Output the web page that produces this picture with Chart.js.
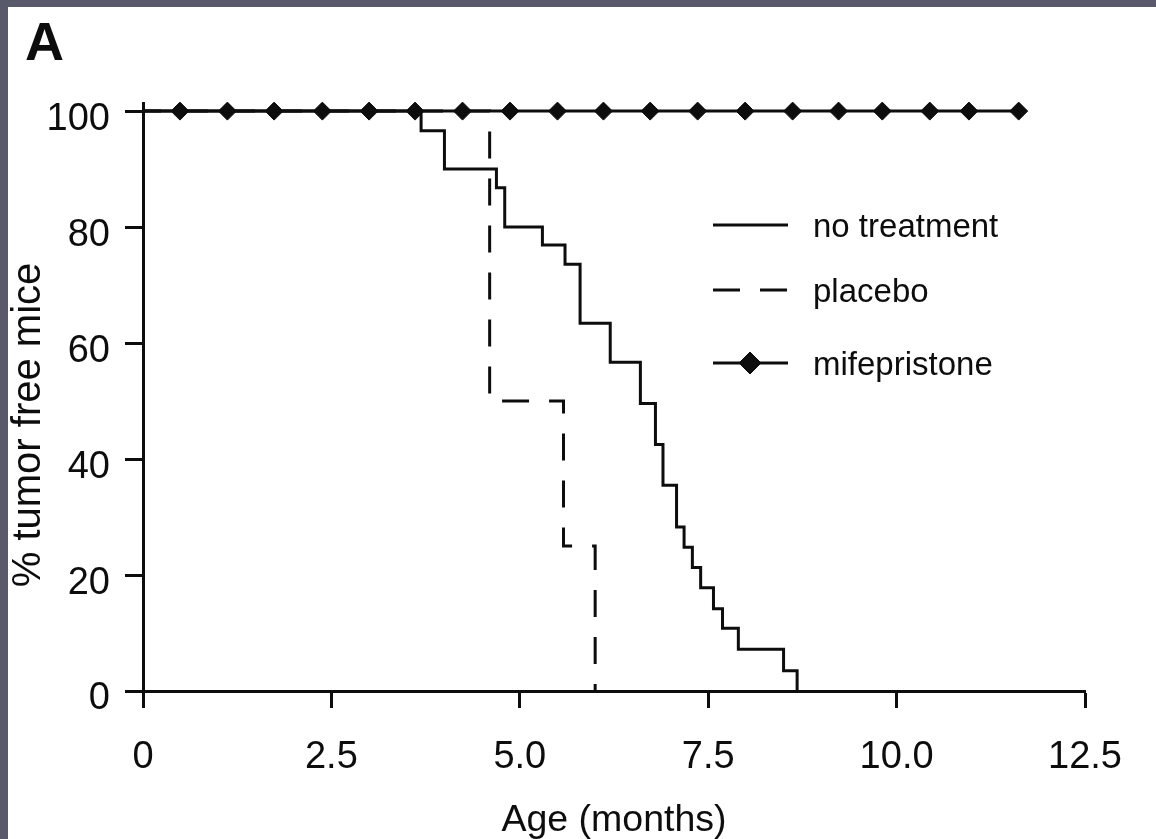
<!DOCTYPE html>
<html>
<head>
<meta charset="utf-8">
<title>Tumor free mice</title>
<script src="https://cdn.jsdelivr.net/npm/chart.js@4.4.1/dist/chart.umd.min.js"></script>
<style>
  html, body { margin: 0; padding: 0; width: 1156px; height: 839px; overflow: hidden; background: #585a6c; }
  #panel { position: absolute; left: 8px; top: 7px; width: 1148px; height: 832px; background: #fff; }
</style>
</head>
<body>
<div id="panel"><canvas id="survivalChart" width="1148" height="832"></canvas></div>
<script>
var FONT = '"Liberation Sans", Arial, Helvetica, sans-serif';
var INK = '#0d0d0d';

// Kaplan-Meier style curves
var noTreatmentMonths = [0, 3.69, 4.0, 4.69, 4.8, 5.3, 5.6, 5.8, 6.2, 6.6, 6.8, 6.9, 7.08, 7.18, 7.29, 7.4, 7.57, 7.69, 7.9, 8.5, 8.68];
var noTreatmentPct = [100, 96.6, 90, 86.8, 80, 76.9, 73.6, 63.4, 56.7, 49.6, 42.5, 35.5, 28.3, 24.8, 21.3, 17.8, 14.2, 10.8, 7.2, 3.5, 0];

var placeboMonths = [0, 4.6, 5.58, 6.0];
var placeboPct = [100, 50, 25, 0];

var mifepristoneMonths = [0, 0.49, 1.12, 1.74, 2.38, 3.0, 3.61, 4.24, 4.87, 5.5, 6.11, 6.73, 7.36, 7.99, 8.62, 9.23, 9.81, 10.44, 10.96, 11.62];
var mifepristonePct = [100, 100, 100, 100, 100, 100, 100, 100, 100, 100, 100, 100, 100, 100, 100, 100, 100, 100, 100, 100];

var xTicks = [0, 2.5, 5, 7.5, 10, 12.5];
var xTickLabels = ['0', '2.5', '5.0', '7.5', '10.0', '12.5'];
var yTicks = [0, 20, 40, 60, 80, 100];

function toPoints(xs, ys) {
    return xs.map(function(x, i) { return { x: x, y: ys[i] }; });
}

// panel letter, rotated y title and the legend
var annotations = {
    id: 'annotations',
    afterDraw: function(chart) {
        var ctx = chart.ctx;
        ctx.save();
        ctx.fillStyle = INK;
        ctx.font = 'bold 54px ' + FONT;
        ctx.textAlign = 'left';
        ctx.textBaseline = 'alphabetic';
        ctx.fillText('A', 17, 53);

        ctx.translate(21, 418);
        ctx.rotate(-Math.PI / 2);
        ctx.font = '40px ' + FONT;
        ctx.textAlign = 'center';
        ctx.textBaseline = 'middle';
        ctx.fillText('% tumor free mice', 0, 0);
        ctx.restore();

        var rows = [218, 283, 356];
        chart.data.datasets.forEach(function(ds, i) {
            var y = rows[i];
            ctx.save();
            ctx.strokeStyle = ds.borderColor;
            ctx.lineWidth = ds.borderWidth;
            ctx.setLineDash(ds.borderDash || []);
            ctx.beginPath();
            ctx.moveTo(705, y);
            ctx.lineTo(780, y);
            ctx.stroke();
            ctx.setLineDash([]);
            if (ds.pointStyle) {
                ctx.fillStyle = ds.pointBackgroundColor;
                ctx.strokeStyle = ds.pointBorderColor;
                ctx.lineWidth = ds.pointBorderWidth;
                Chart.helpers.drawPoint(ctx, { pointStyle: ds.pointStyle, radius: 11, rotation: 0, borderWidth: ds.pointBorderWidth }, 742, y);
            }
            ctx.fillStyle = INK;
            ctx.font = '33px ' + FONT;
            ctx.textAlign = 'left';
            ctx.textBaseline = 'alphabetic';
            ctx.fillText(ds.label, 805, y + 12);
            ctx.restore();
        });
    }
};

var ctx = document.getElementById('survivalChart').getContext('2d');
new Chart(ctx, {
    type: 'line',
    data: {
        datasets: [{
            label: 'no treatment',
            data: toPoints(noTreatmentMonths, noTreatmentPct),
            stepped: true,
            borderColor: INK,
            borderWidth: 3,
            pointRadius: 0,
            fill: false,
            clip: false
        }, {
            label: 'placebo',
            data: toPoints(placeboMonths, placeboPct),
            stepped: true,
            borderColor: INK,
            borderWidth: 3,
            borderDash: [27, 20],
            borderDashOffset: 9,
            pointRadius: 0,
            fill: false,
            clip: false
        }, {
            label: 'mifepristone',
            data: toPoints(mifepristoneMonths, mifepristonePct),
            borderColor: INK,
            borderWidth: 3,
            pointStyle: 'rectRot',
            pointRadius: function(c) { return c.dataIndex === 0 ? 0 : 9; },
            pointBackgroundColor: INK,
            pointBorderColor: INK,
            pointBorderWidth: 1,
            fill: false,
            clip: false
        }]
    },
    options: {
        responsive: false,
        animation: false,
        events: [],
        layout: { padding: { left: 0, right: 71, top: 96, bottom: 0 } },
        plugins: {
            legend: { display: false },
            tooltip: { enabled: false }
        },
        scales: {
            x: {
                type: 'linear',
                min: 0,
                max: 12.5,
                afterBuildTicks: function(s) { s.ticks = xTicks.map(function(v) { return { value: v }; }); },
                afterFit: function(s) { s.height = 148; },
                grid: { drawOnChartArea: false, drawTicks: true, tickLength: 17, tickWidth: 3, tickColor: INK },
                border: { display: true, width: 3, color: INK },
                ticks: {
                    padding: 27,
                    color: INK,
                    maxRotation: 0,
                    autoSkip: false,
                    font: { family: FONT, size: 38 },
                    callback: function(v, i) { return xTickLabels[i]; }
                },
                title: {
                    display: true,
                    text: 'Age (months)',
                    color: INK,
                    font: { family: FONT, size: 37.5, lineHeight: 1 },
                    padding: { top: 0, bottom: 0 }
                }
            },
            y: {
                min: 0,
                max: 101.4,
                afterBuildTicks: function(s) { s.ticks = yTicks.map(function(v) { return { value: v }; }); },
                afterFit: function(s) { s.width = 135; },
                grid: { drawOnChartArea: false, drawTicks: true, tickLength: 18, tickWidth: 3, tickColor: INK },
                border: { display: true, width: 3, color: INK },
                ticks: {
                    padding: 15,
                    labelOffset: 8,
                    color: INK,
                    font: { family: FONT, size: 38 }
                }
            }
        }
    },
    plugins: [annotations]
});
</script>
</body>
</html>
